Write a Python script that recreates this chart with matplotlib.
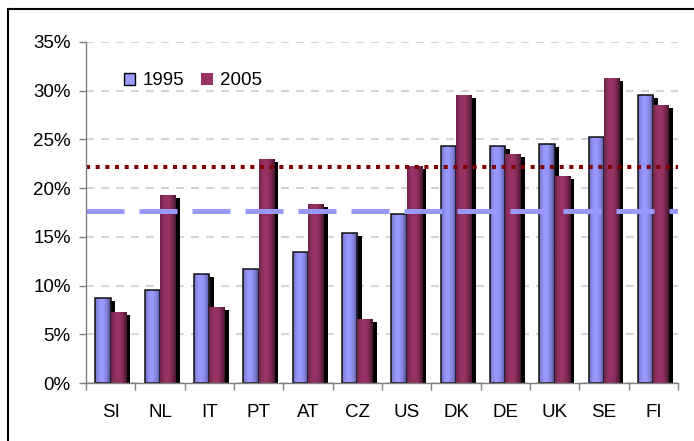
import numpy as np
from matplotlib import pyplot as plt
from matplotlib.patches import Patch
from matplotlib.lines import Line2D
from matplotlib import patheffects as pe
from matplotlib.ticker import FuncFormatter

# data
countries = ['SI', 'NL', 'IT', 'PT', 'AT', 'CZ', 'US', 'DK', 'DE', 'UK', 'SE', 'FI']
share_1995 = [8.7, 9.5, 11.2, 11.7, 13.4, 15.4, 17.3, 24.3, 24.3, 24.5, 25.2, 29.6]
share_2005 = [7.3, 19.3, 7.8, 23.0, 18.4, 6.6, 22.3, 29.6, 23.5, 21.2, 31.3, 28.5]
avg_1995 = 17.6
avg_2005 = 22.2

plt.rcParams['font.family'] = ['Liberation Sans', 'DejaVu Sans']

BLUE = '#9999ff'
BLUE_DARK = '#45457c'
MAROON = '#993366'
MAROON_DARK = '#42152c'


def hex_rgb(c):
    c = c.lstrip('#')
    return np.array([int(c[i:i + 2], 16) / 255 for i in (0, 2, 4)])


def gradient(base, dark, n=64):
    """horizontal gradient like the old excel bars"""
    t = np.linspace(0, 1, n)
    k = np.abs((t - 0.42) / 0.58) ** 2.0
    k = np.clip(k, 0, 1)
    b = hex_rgb(base)
    d = hex_rgb(dark)
    img = b[None, :] * (1 - k[:, None]) + d[None, :] * k[:, None]
    return img[None, :, :]


def fill_bars(ax, bars, base, dark, z):
    img = gradient(base, dark)
    for p in bars:
        x0, y0 = p.get_x(), p.get_y()
        im = ax.imshow(img, extent=(x0, x0 + p.get_width(), y0, y0 + p.get_height()),
                       aspect='auto', interpolation='bicubic', zorder=z)
        im.set_clip_path(p)


fig = plt.figure(figsize=(6.94, 4.41), dpi=100)
ax = fig.add_axes([0.124, 0.1315, 0.853, 0.7735])

x = np.arange(len(countries))
w = 0.31
shadow = [pe.SimplePatchShadow(offset=(3.0, -2.2), shadow_rgbFace='black', alpha=1), pe.Normal()]

b1 = ax.bar(x - w / 2, share_1995, w, color=BLUE, edgecolor='none', zorder=2, path_effects=shadow)
fill_bars(ax, b1, BLUE, BLUE_DARK, 2.05)
ax.bar(x - w / 2, share_1995, w, facecolor='none', edgecolor='#111111', linewidth=1.1, zorder=2.1)

b2 = ax.bar(x + w / 2, share_2005, w, color=MAROON, edgecolor='none', zorder=2.2, path_effects=shadow)
fill_bars(ax, b2, MAROON, MAROON_DARK, 2.25)

# average lines
ax.axhline(avg_1995, color=BLUE, lw=3.6, dashes=(7.6, 3.0), zorder=3)
ax.axhline(avg_2005, color='#800000', lw=2.9, dashes=(1.0, 1.4), zorder=3.1)

ax.set_xlim(-0.5, len(countries) - 0.5)
ax.set_ylim(0, 35)
ax.set_yticks(np.arange(0, 36, 5))
ax.yaxis.set_major_formatter(FuncFormatter(lambda v, pos: '%d%%' % v))
ax.set_xticks(x)
ax.set_xticklabels(countries)
ax.set_xticks(np.arange(-0.5, len(countries), 1), minor=True)
ax.tick_params(axis='x', which='major', length=0, pad=15, labelsize=13.5)
ax.tick_params(axis='x', which='minor', length=5, width=1, color='#808080', direction='out')
ax.tick_params(axis='y', length=5, width=1, color='#808080', pad=6, labelsize=13.5)

ax.yaxis.grid(True, color='#d4d4d4', lw=1.5, dashes=(3.8, 3.4))
ax.set_axisbelow(True)
for s in ['top', 'right']:
    ax.spines[s].set_visible(False)
for s in ['left', 'bottom']:
    ax.spines[s].set_color('#808080')
    ax.spines[s].set_linewidth(1)
    ax.spines[s].set_zorder(4)

handles = [Patch(facecolor=BLUE, edgecolor='black', linewidth=1),
           Patch(facecolor=MAROON, edgecolor='none')]
ax.legend(handles, ['1995', '2005'], ncol=2, frameon=False, fontsize=13.5,
          loc='upper left', bbox_to_anchor=(0.036, 0.96),
          handlelength=0.6, handleheight=0.6, handletextpad=0.4, columnspacing=0.9)

# outer frame of the original picture
fig.add_artist(Line2D([0.0115, 0.0115], [0, 0.98], color='black', lw=1.5))
fig.add_artist(Line2D([0.0115, 1], [0.98, 0.98], color='black', lw=1.5))

plt.savefig('out.png', dpi=100)
